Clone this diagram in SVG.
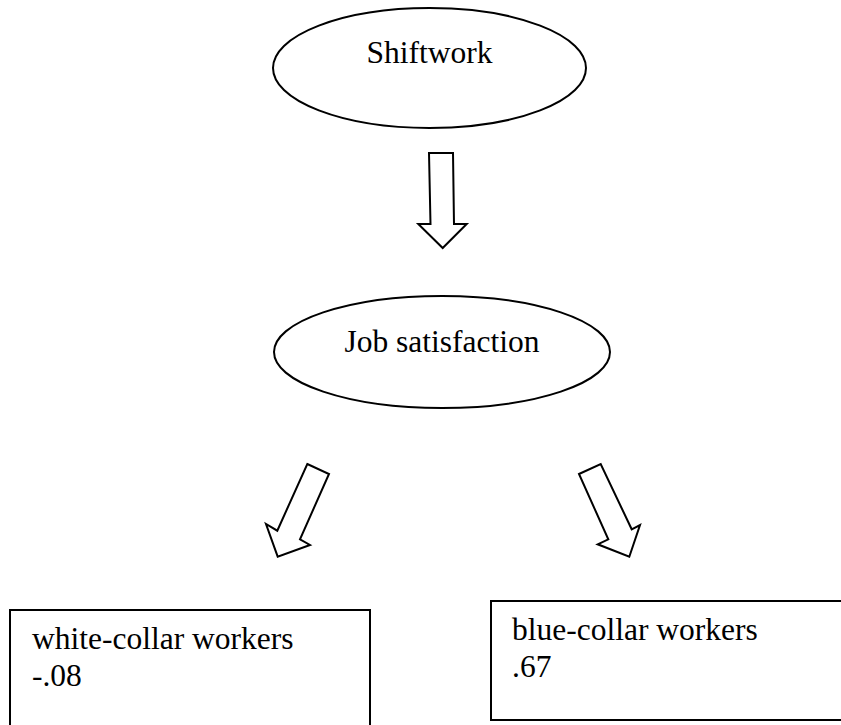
<svg xmlns="http://www.w3.org/2000/svg" width="841" height="725" viewBox="0 0 841 725">
<style>
.shape{fill:#fff;stroke:#000;stroke-width:2}
.arrow{fill:#fff;stroke:#000;stroke-width:2;stroke-linejoin:miter}
.t{font-family:"Liberation Serif","Times New Roman",serif;font-size:31.5px;fill:#000}
</style>
<rect width="841" height="725" fill="#fff"/>
<g id="shiftwork">
<ellipse class="shape" cx="429.5" cy="68" rx="156.5" ry="60"/>
<text class="t" x="429.5" y="63" text-anchor="middle">Shiftwork</text>
</g>
<g id="job-satisfaction">
<ellipse class="shape" cx="442" cy="352" rx="168" ry="56"/>
<text class="t" x="442" y="352" text-anchor="middle">Job satisfaction</text>
</g>
<g id="white-collar">
<rect class="shape" x="10" y="610" width="360" height="130"/>
<text class="t" x="32" y="649">white-collar workers</text>
<text class="t" x="32" y="686">-.08</text>
</g>
<g id="blue-collar">
<rect class="shape" x="491" y="601" width="370" height="119"/>
<text class="t" x="512" y="640">blue-collar workers</text>
<text class="t" x="512" y="677">.67</text>
</g>
<g id="connectors">
<polygon class="arrow" points="429,153 453,153 454,224 466.7,224 442.7,248 418.3,224 430.5,224"/>
<polygon class="arrow" points="307.3,464 329,474 300,539.3 310,545 277.7,556.7 266,524 277.3,530.7"/>
<polygon class="arrow" points="579,474 600.7,464 631.7,529.3 640,525 629.3,556.7 597.7,544.3 608.3,539.3"/>
</g>
</svg>
